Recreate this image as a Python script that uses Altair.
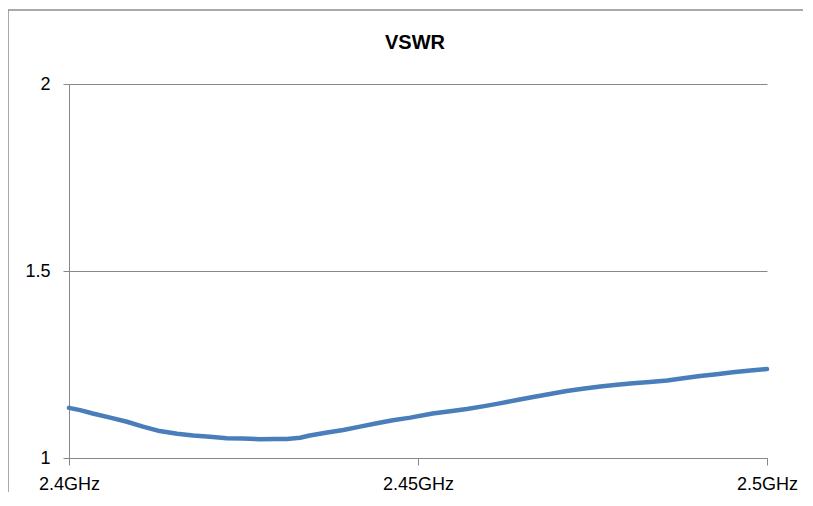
import altair as alt
import pandas as pd

# Frequency (GHz) and VSWR values
freq_ghz = [2.4000, 2.4016, 2.4034, 2.4059, 2.4083, 2.4106, 2.4130, 2.4155, 2.4178, 2.4202,
            2.4226, 2.4249, 2.4274, 2.4295, 2.4312, 2.4331, 2.4345, 2.4370, 2.4393, 2.4417,
            2.4441, 2.4464, 2.4489, 2.4521, 2.4546, 2.4570, 2.4593, 2.4617, 2.4642, 2.4665,
            2.4689, 2.4713, 2.4736, 2.4761, 2.4785, 2.4808, 2.4832, 2.4857, 2.4880, 2.4904,
            2.4928, 2.4951, 2.4976, 2.5000]
vswr = [1.134, 1.128, 1.119, 1.108, 1.097, 1.084, 1.072, 1.065, 1.060, 1.057,
        1.053, 1.052, 1.050, 1.051, 1.051, 1.054, 1.060, 1.068, 1.075, 1.084,
        1.093, 1.101, 1.108, 1.119, 1.125, 1.131, 1.138, 1.146, 1.155, 1.163,
        1.171, 1.179, 1.185, 1.191, 1.196, 1.200, 1.203, 1.207, 1.213, 1.219,
        1.224, 1.229, 1.234, 1.238]

x_ticks = [2.4, 2.45, 2.5]
x_tick_labels = ["2.4GHz", "2.45GHz", "2.5GHz"]
y_ticks = [1, 1.5, 2]
y_tick_labels = ["1", "1.5", "2"]
title_text = "VSWR"

df = pd.DataFrame({"freq": freq_ghz, "vswr": vswr})


def label_expr(values, labels):
    expr = "''"
    for v, l in reversed(list(zip(values, labels))):
        expr = f"(abs(datum.value - {v}) < 1e-9 ? '{l}' : {expr})"
    return expr


FONT = "Liberation Sans"
GRAY = "#888888"

line = alt.Chart(df).mark_line(color="#4a7ebb", strokeWidth=4.5, strokeCap="round",
                               strokeJoin="round").encode(
    x=alt.X("freq:Q",
            scale=alt.Scale(domain=[2.4, 2.5], nice=False, zero=False),
            axis=alt.Axis(values=x_ticks, labelExpr=label_expr(x_ticks, x_tick_labels),
                          title=None, grid=False, domainColor=GRAY, tickColor=GRAY,
                          tickSize=7, labelFont=FONT, labelFontSize=18, labelColor="#000000",
                          labelPadding=10, labelAlign="center", labelFlush=False)),
    y=alt.Y("vswr:Q",
            scale=alt.Scale(domain=[1, 2], nice=False, zero=False),
            axis=alt.Axis(values=y_ticks, labelExpr=label_expr(y_ticks, y_tick_labels),
                          title=None, grid=True, gridColor=GRAY, gridOpacity=1,
                          domainColor=GRAY, tickColor=GRAY, tickSize=6,
                          labelFont=FONT, labelFontSize=18, labelColor="#000000",
                          labelPadding=13)),
)

frame_data = alt.Data(values=[{}])
frame_top = alt.Chart(frame_data).mark_rule(color="#8c8c8c", strokeWidth=1.5).encode(
    x=alt.value(-61), x2=alt.value(760), y=alt.value(-74)
)
frame_left = alt.Chart(frame_data).mark_rule(color="#8c8c8c", strokeWidth=1.5).encode(
    x=alt.value(-61), y=alt.value(-74), y2=alt.value(440)
)

title = alt.Chart(alt.Data(values=[{"t": title_text}])).mark_text(
    font=FONT, fontSize=20, fontWeight="bold", color="#000000",
    align="center", baseline="alphabetic"
).encode(
    text="t:N", x=alt.value(346), y=alt.value(-35)
)

chart = alt.layer(frame_top, frame_left, line, title).properties(
    width=698, height=374,
    autosize=alt.AutoSizeParams(type="none"),
    padding={"left": 61, "top": 76, "right": 36, "bottom": 34},
).configure_view(stroke=None)

chart.save("out.html", embed_options={"renderer": "svg", "actions": False})
